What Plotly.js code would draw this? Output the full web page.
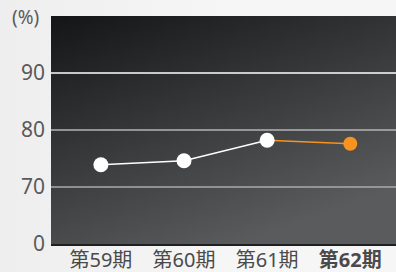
<!DOCTYPE html>
<html><head><meta charset="utf-8">
<script src="https://cdn.plot.ly/plotly-3.0.1.min.js"></script>
<style>
html,body{margin:0;padding:0;width:396px;height:272px;overflow:hidden;}
body{background:linear-gradient(90deg,#eeeeee 0%,#f6f6f6 60%,#f6f6f6 100%);}
#chart{width:396px;height:272px;}
</style></head><body>
<div id="chart"></div>
<script>
const periods = ['第59期','第60期','第61期','第62期'];
const tickLabels = ['第59期','第60期','第61期','<b>第62期</b>'];
const ratio = [73.9, 74.6, 78.2, 77.6];
const yTickVals = [60, 70, 80, 90];
const yTickText = ['0', '70', '80', '90'];
const gridVals = [70, 80, 90];
const gridColors = ['#a9abac', '#b4b5b6', '#ffffff'];

const font = 'Noto Sans, "Noto Sans CJK JP", sans-serif';
const grad = 'data:image/svg+xml;charset=utf-8,' + encodeURIComponent(
 '<svg xmlns="http://www.w3.org/2000/svg" width="345" height="228" viewBox="0 0 345 228" preserveAspectRatio="none">' +
 '<defs><linearGradient id="g" x1="0" y1="0" x2="0.55" y2="1"><stop offset="0" stop-color="#141517"/><stop offset="1" stop-color="#595b5d"/></linearGradient></defs>' +
 '<rect width="345" height="228" fill="url(#g)"/></svg>');

const traces = [
 {x: periods.slice(2), y: ratio.slice(2), type: 'scatter', mode: 'lines',
  line: {color: '#f7931e', width: 1.5}, hoverinfo: 'skip'},
 {x: periods.slice(0, 3), y: ratio.slice(0, 3), type: 'scatter', mode: 'lines+markers',
  line: {color: '#ffffff', width: 1.5}, marker: {color: '#ffffff', size: 15}},
 {x: periods.slice(3), y: ratio.slice(3), type: 'scatter', mode: 'markers',
  marker: {color: '#f7931e', size: 14}}
];

const shapes = gridVals.map((v, i) => ({
 type: 'line', xref: 'paper', yref: 'y', x0: 0, x1: 1, y0: v, y1: v,
 line: {color: gridColors[i], width: 1.5}, layer: 'below'
}));

const layout = {
 width: 396, height: 272,
 margin: {l: 51, r: 0, t: 16, b: 28},
 paper_bgcolor: 'rgba(0,0,0,0)', plot_bgcolor: 'rgba(0,0,0,0)',
 showlegend: false,
 font: {family: font, color: '#555555', size: 18},
 xaxis: {type: 'category', categoryorder: 'array', categoryarray: periods,
  range: [-0.6, 3.55], tickvals: periods, ticktext: tickLabels,
  showgrid: false, zeroline: false, showline: true, linecolor: '#1e1f20', linewidth: 2,
  ticks: '', ticklabelstandoff: -3, tickfont: {family: font, size: 20, color: '#4a4a4a'}, fixedrange: true},
 yaxis: {range: [60, 100], tickvals: yTickVals, ticktext: yTickText, showgrid: false,
  zeroline: false, showline: false, ticks: '', ticklabelstandoff: 5,
  tickfont: {family: font, size: 21, color: '#5a5a5a'}, fixedrange: true},
 shapes: shapes,
 images: [{source: grad, xref: 'paper', yref: 'paper', x: 0, y: 1, sizex: 1, sizey: 1,
  xanchor: 'left', yanchor: 'top', sizing: 'stretch', layer: 'below'}],
 annotations: [{text: '(%)', xref: 'paper', yref: 'paper', x: -0.03, y: 0.996,
  xanchor: 'right', yanchor: 'middle', showarrow: false,
  font: {family: font, size: 19, color: '#5a5a5a'}}]
};

Plotly.newPlot('chart', traces, layout, {displayModeBar: false, staticPlot: true});
</script></body></html>
